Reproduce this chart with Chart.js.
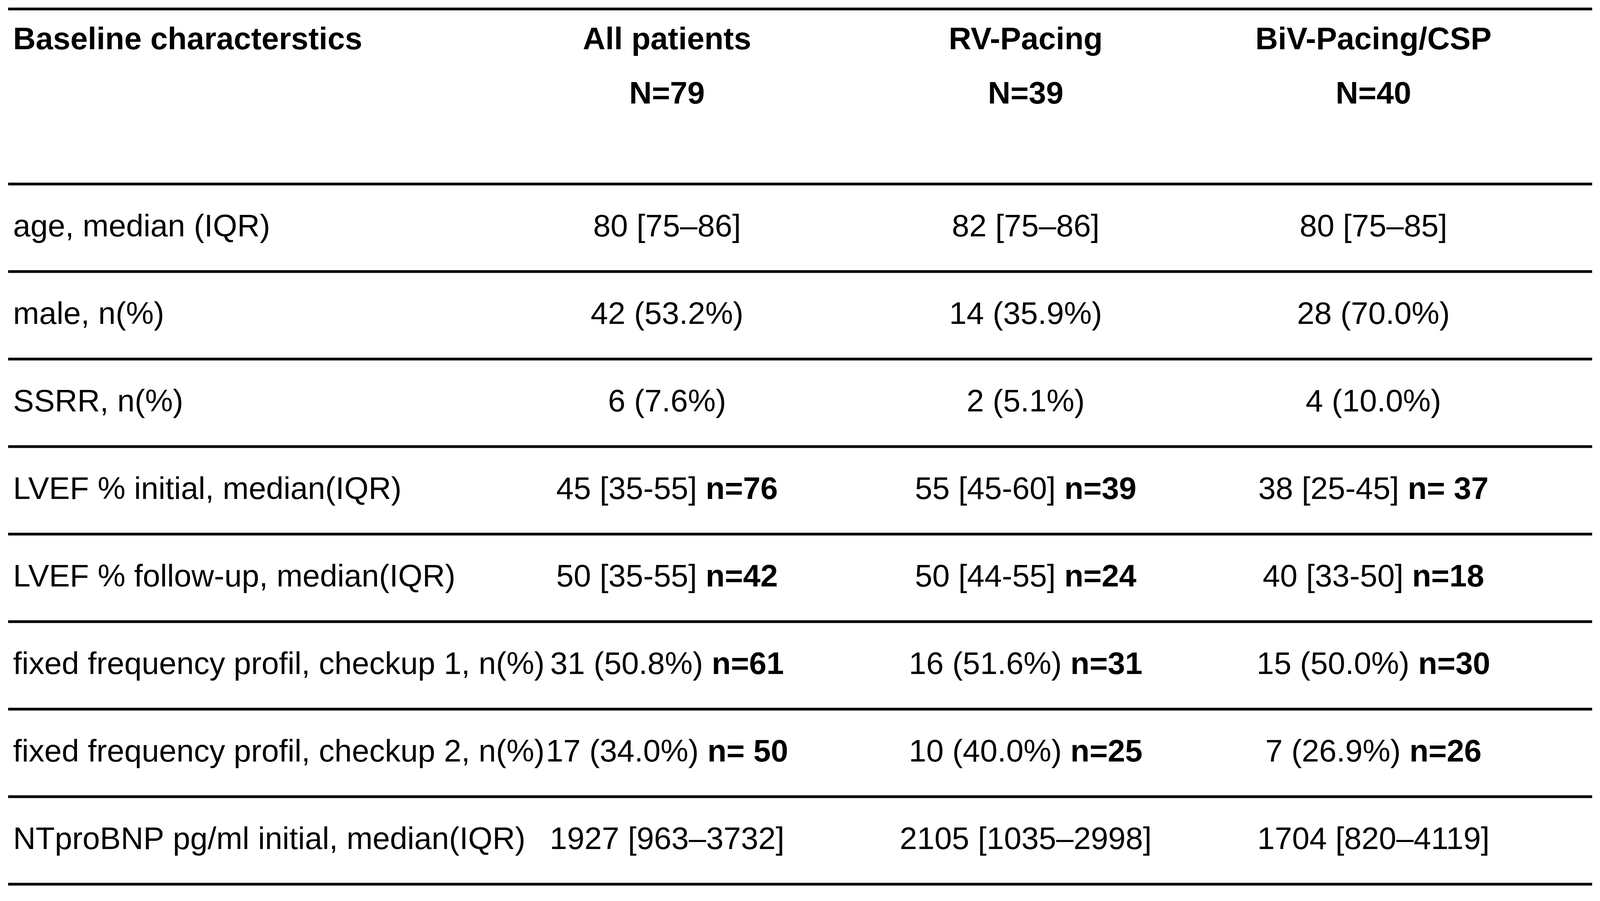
<!DOCTYPE html>
<html>
<head>
<meta charset="utf-8">
<script src="https://cdn.jsdelivr.net/npm/chart.js@4"></script>
<style>
  html, body { margin: 0; padding: 0; background: #fff; overflow: hidden; }
  #wrap { position: relative; width: 100vw; height: 100vh; }
</style>
</head>
<body>
<div id="wrap"><canvas id="tabela"></canvas></div>
<script>
// table content
const corner = "Baseline characterstics";
const groups = ["All patients", "RV-Pacing", "BiV-Pacing/CSP"];
const groupN = ["N=79", "N=39", "N=40"];
const rowLabels = [
  "age, median (IQR)",
  "male, n(%)",
  "SSRR, n(%)",
  "LVEF % initial, median(IQR)",
  "LVEF % follow-up, median(IQR)",
  "fixed frequency profil, checkup 1, n(%)",
  "fixed frequency profil, checkup 2, n(%)",
  "NTproBNP pg/ml initial, median(IQR)",
];
const allPatients = ["80 [75–86]", "42 (53.2%)", "6 (7.6%)", "45 [35-55]", "50 [35-55]", "31 (50.8%)", "17 (34.0%)", "1927 [963–3732]"];
const allPatientsN = ["", "", "", "n=76", "n=42", "n=61", "n= 50", ""];
const rvPacing = ["82 [75–86]", "14 (35.9%)", "2 (5.1%)", "55 [45-60]", "50 [44-55]", "16 (51.6%)", "10 (40.0%)", "2105 [1035–2998]"];
const rvPacingN = ["", "", "", "n=39", "n=24", "n=31", "n=25", ""];
const bivPacing = ["80 [75–85]", "28 (70.0%)", "4 (10.0%)", "38 [25-45]", "40 [33-50]", "15 (50.0%)", "7 (26.9%)", "1704 [820–4119]"];
const bivPacingN = ["", "", "", "n= 37", "n=18", "n=30", "n=26", ""];

// layout: x as fraction of width, y in row units (header = 2 rows)
const labelX = 60 / 7316;
const colX = [3050 / 7316, 4690 / 7316, 6280 / 7316];
const ruleX = [37 / 7316, 7280 / 7316];

const colValues = [allPatients, rvPacing, bivPacing];
const colN = [allPatientsN, rvPacingN, bivPacingN];

const datasets = [];
datasets.push({
  label: "labels",
  data: rowLabels.map((t, i) => ({ x: labelX, y: i + 2.5, parts: [[t, false]], align: "left" })),
});
colValues.forEach((vals, c) => {
  datasets.push({
    label: groups[c],
    data: vals.map((v, i) => ({
      x: colX[c],
      y: i + 2.5,
      parts: colN[c][i] ? [[v + " ", false], [colN[c][i], true]] : [[v, false]],
      align: "center",
    })),
  });
});
datasets.push({
  label: "header",
  data: [{ x: labelX, y: 0.36, parts: [[corner, true]], align: "left" }]
    .concat(groups.map((g, c) => ({ x: colX[c], y: 0.36, parts: [[g, true]], align: "center" })))
    .concat(groupN.map((g, c) => ({ x: colX[c], y: 0.98, parts: [[g, true]], align: "center" }))),
});

const tablePlugin = {
  id: "tablePlugin",
  afterDatasetsDraw(chart) {
    const ctx = chart.ctx;
    const xs = chart.scales.x, ys = chart.scales.y;
    const unit = chart.height / 2306;
    const FONT = Math.round(80 * unit) + "px 'Liberation Sans', Arial, sans-serif";
    const BOLD = "bold " + FONT;
    ctx.save();
    ctx.strokeStyle = "#000";
    ctx.lineWidth = 7 * unit;
    const x0 = xs.getPixelForValue(ruleX[0]), x1 = xs.getPixelForValue(ruleX[1]);
    for (let k = 0; k <= rowLabels.length + 2; k++) {
      if (k === 1) continue;
      const y = ys.getPixelForValue(k);
      ctx.beginPath();
      ctx.moveTo(x0, y);
      ctx.lineTo(x1, y);
      ctx.stroke();
    }
    ctx.fillStyle = "#000";
    ctx.textBaseline = "middle";
    ctx.textAlign = "left";
    chart.data.datasets.forEach((ds, di) => {
      const meta = chart.getDatasetMeta(di);
      meta.data.forEach((pt, i) => {
        const cell = ds.data[i];
        let total = 0;
        cell.parts.forEach(p => {
          ctx.font = p[1] ? BOLD : FONT;
          total += ctx.measureText(p[0]).width;
        });
        let x = cell.align === "center" ? pt.x - total / 2 : pt.x;
        cell.parts.forEach(p => {
          ctx.font = p[1] ? BOLD : FONT;
          ctx.fillText(p[0], x, pt.y);
          x += ctx.measureText(p[0]).width;
        });
      });
    });
    ctx.restore();
  },
};

new Chart(document.getElementById("tabela"), {
  type: "scatter",
  data: { datasets },
  options: {
    responsive: true,
    maintainAspectRatio: false,
    animation: false,
    layout: { padding: 0 },
    elements: { point: { radius: 0, hoverRadius: 0 } },
    plugins: { legend: { display: false }, tooltip: { enabled: false } },
    scales: {
      x: { type: "linear", min: 0, max: 1, display: false },
      y: { type: "linear", min: -23 / 224, max: 10 + 43 / 224, reverse: true, display: false },
    },
  },
  plugins: [tablePlugin],
});
</script>
</body>
</html>
